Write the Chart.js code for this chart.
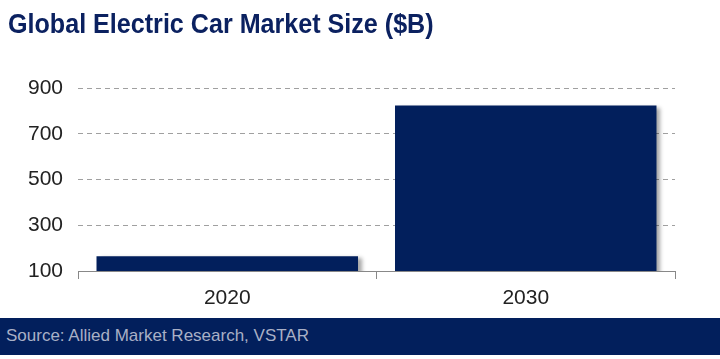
<!DOCTYPE html>
<html>
<head>
<meta charset="utf-8">
<script src="https://cdn.jsdelivr.net/npm/chart.js@4/dist/chart.umd.min.js"></script>
<style>
  html, body { margin: 0; padding: 0; background: #fff; }
  #wrap { position: relative; width: 720px; height: 359px; overflow: hidden; }
  #title { position: absolute; left: 8px; top: 9px; font-family: "Liberation Sans", Arial, sans-serif; font-weight: bold; font-size: 27px; color: #0b2160; white-space: nowrap; transform: scaleX(0.93); transform-origin: left top; }
  #footer { position: absolute; left: 0; top: 318px; width: 720px; height: 37px; background: #021f5c; }
  #footer span { position: absolute; left: 6px; top: 8px; font-family: "Liberation Sans", Arial, sans-serif; font-size: 17px; color: #a9b0c6; white-space: nowrap; }
  canvas { position: absolute; left: 0; top: 0; }
</style>
</head>
<body>
<div id="wrap">
  <canvas id="c" width="720" height="359"></canvas>
  <div id="title">Global Electric Car Market Size ($B)</div>
  <div id="footer"><span>Source: Allied Market Research, VSTAR</span></div>
</div>
<script>
const categories = ["2020", "2030"];
const marketSize = [165, 823];
const yMin = 100, yMax = 900, yStep = 200;

const shadowPlugin = {
  id: 'barShadow',
  beforeDatasetsDraw(chart) {
    const ctx = chart.ctx;
    ctx.save();
    ctx.shadowColor = 'rgba(0,0,0,0.35)';
    ctx.shadowBlur = 4;
    ctx.shadowOffsetX = 4;
    ctx.shadowOffsetY = 2;
  },
  afterDatasetsDraw(chart) {
    chart.ctx.restore();
  }
};

new Chart(document.getElementById('c'), {
  type: 'bar',
  data: {
    labels: categories,
    datasets: [{
      data: marketSize,
      backgroundColor: '#021f5c',
      borderWidth: 0,
      barPercentage: 0.876,
      categoryPercentage: 1.0
    }]
  },
  options: {
    responsive: false,
    animation: false,
    devicePixelRatio: 1,
    layout: { padding: { top: 88, right: 45, bottom: 41, left: 0 } },
    plugins: { legend: { display: false }, tooltip: { enabled: false }, title: { display: false } },
    scales: {
      x: {
        afterFit(s) { s.height = 47; },
        grid: { offset: true, drawOnChartArea: false, drawTicks: true, tickLength: 8, color: '#888', lineWidth: 1 },
        border: { display: true, color: '#888', width: 1 },
        ticks: { padding: 7, color: '#222', font: { family: 'Liberation Sans, Arial, sans-serif', size: 21 } }
      },
      y: {
        min: yMin, max: yMax,
        afterFit(s) { s.width = 78; },
        ticks: { stepSize: yStep, padding: 15, color: '#222', font: { family: 'Liberation Sans, Arial, sans-serif', size: 21 } },
        grid: {
          drawTicks: false,
          color: (c) => (c.tick && c.tick.value === yMin) ? 'rgba(0,0,0,0)' : '#a0a0a0',
          lineWidth: 1
        },
        border: { display: false, dash: [5, 4] }
      }
    }
  },
  plugins: [shadowPlugin]
});
</script>
</body>
</html>
